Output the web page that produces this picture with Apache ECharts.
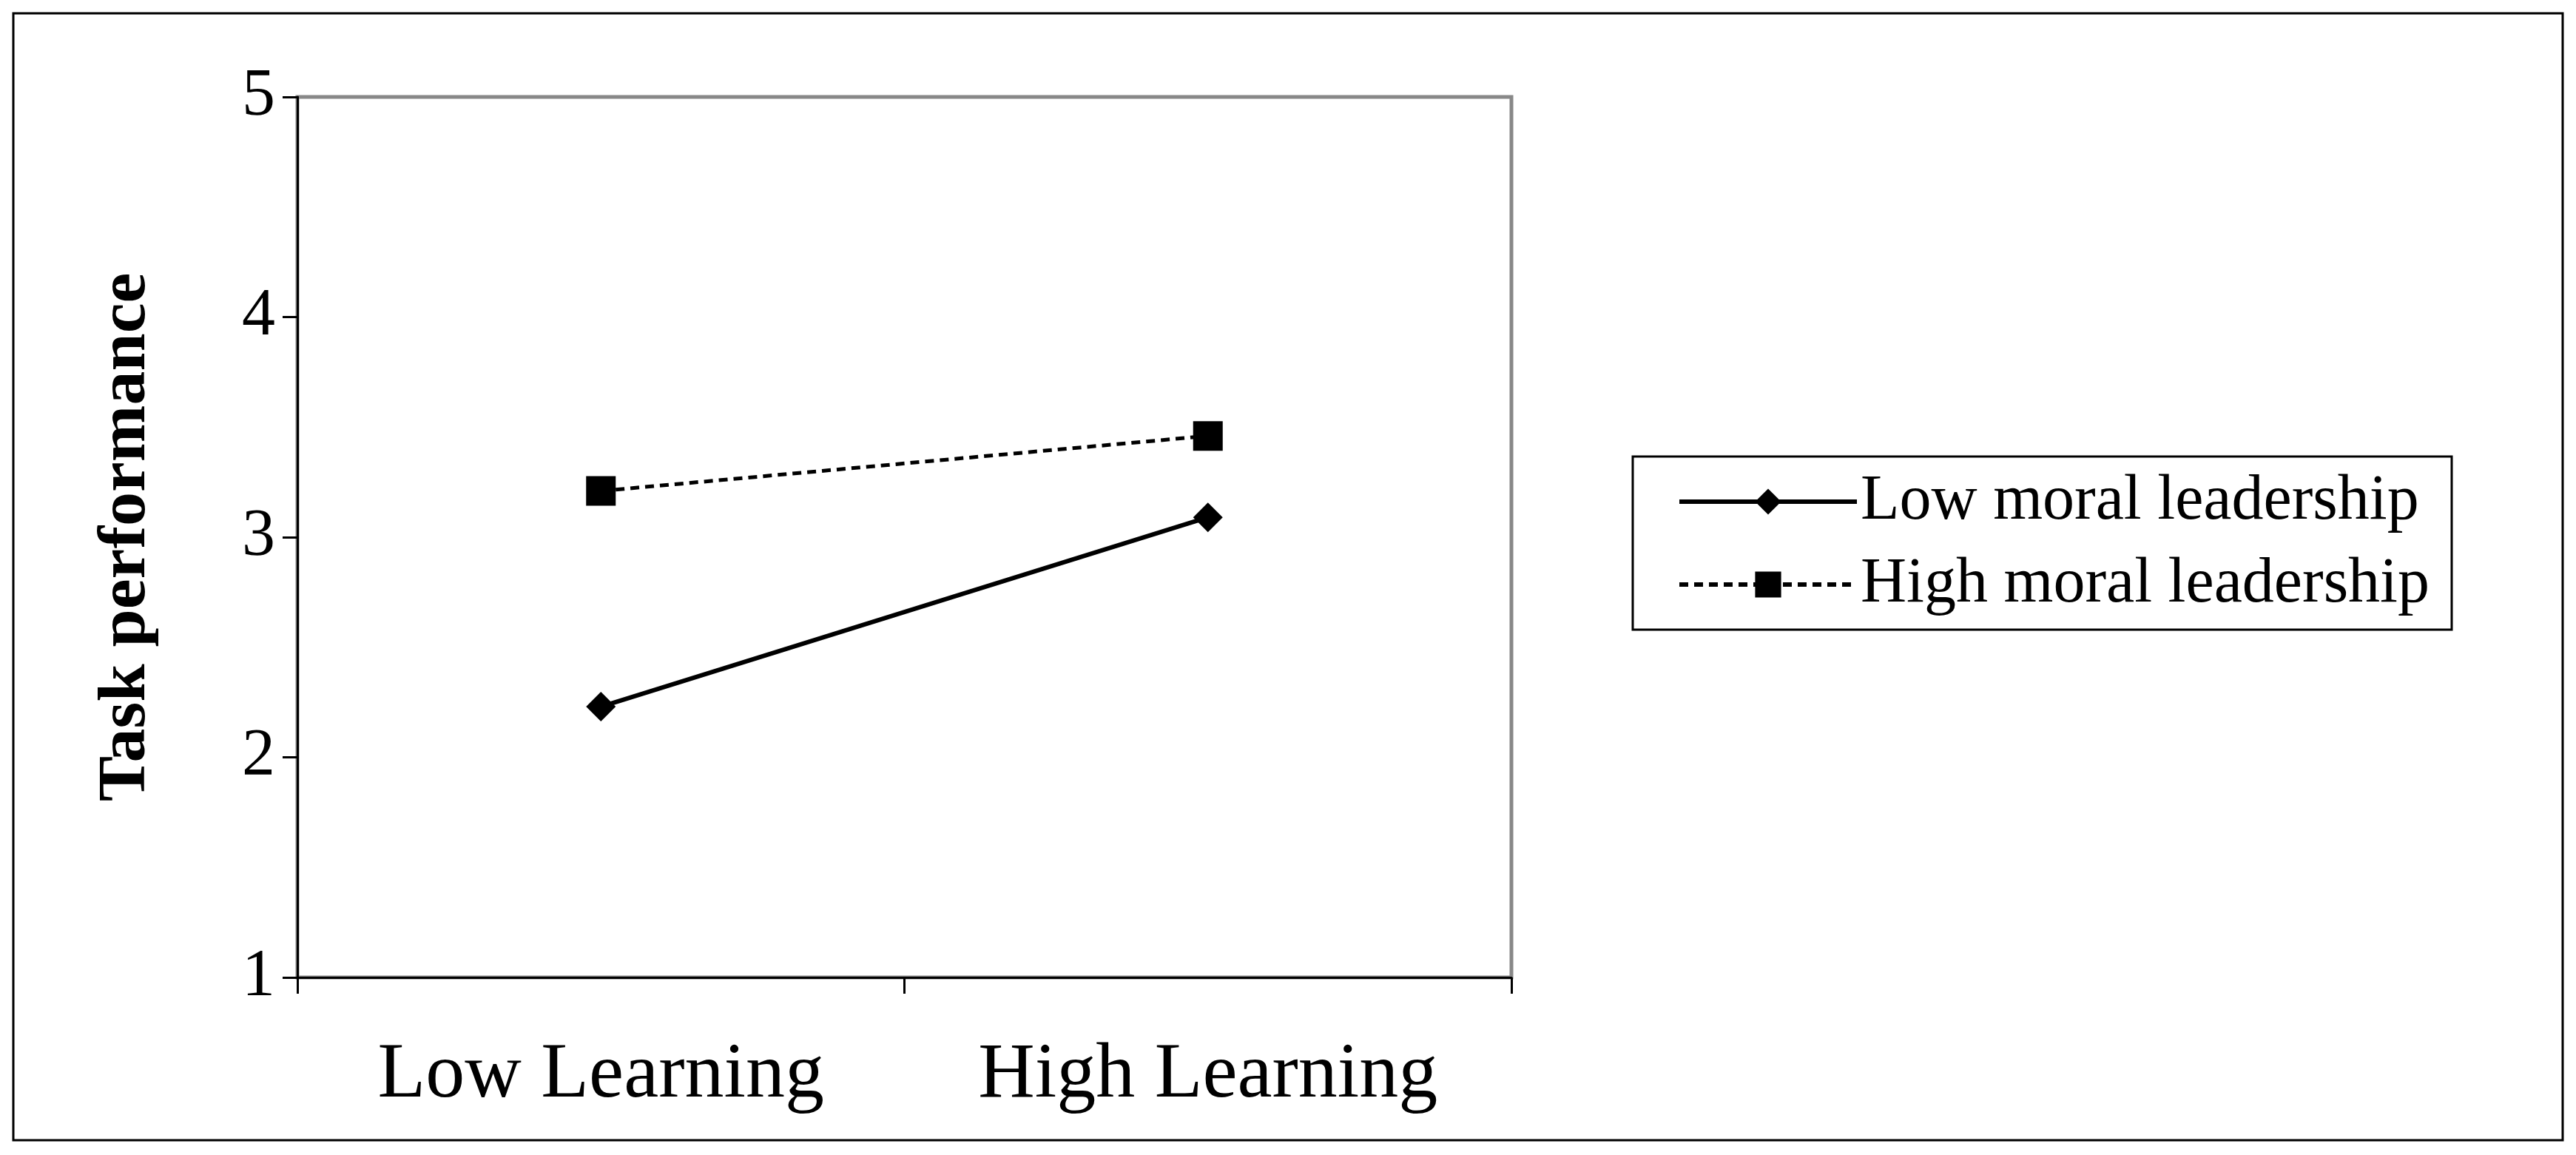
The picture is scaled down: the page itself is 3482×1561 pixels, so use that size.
<!DOCTYPE html>
<html><head><meta charset="utf-8">
<script src="https://cdn.jsdelivr.net/npm/echarts@6/dist/echarts.min.js"></script>
<style>html,body{margin:0;background:#fff}#c{width:3482px;height:1561px}</style>
</head><body><div id="c"></div>
<script>
const categories = ["Low Learning", "High Learning"];
const lowMoral = [2.23, 3.09];
const highMoral = [3.21, 3.46];
const yTicks = [1, 2, 3, 4, 5];

const font = "Liberation Serif";
const chart = echarts.init(document.getElementById("c"));
chart.setOption({
    animation: false,
    graphic: [{
        type: "rect",
        shape: { x: 18, y: 18, width: 3446, height: 1523 },
        style: { fill: "none", stroke: "#000", lineWidth: 3 },
    }],
    grid: {
        left: 402, right: 1439, top: 131, bottom: 240,
        show: true, borderColor: "#888", borderWidth: 5,
    },
    legend: {
        orient: "vertical",
        left: 2207, top: 617, width: 1208,
        padding: [18, 30, 18, 60],
        borderColor: "#000", borderWidth: 3,
        itemWidth: 240, itemHeight: 44, itemGap: 26,
        lineStyle: { width: 6 },
        textStyle: { fontFamily: font, fontSize: 86, color: "#000" },
    },
    xAxis: {
        type: "category",
        data: categories,
        boundaryGap: true,
        axisLine: { lineStyle: { color: "#000", width: 3 } },
        axisTick: { show: true, interval: 0, alignWithLabel: false, length: 22, lineStyle: { color: "#000", width: 3 } },
        axisLabel: { fontFamily: font, fontSize: 106, color: "#000", margin: 80 },
    },
    yAxis: {
        type: "value",
        min: yTicks[0], max: yTicks[yTicks.length - 1], interval: 1,
        name: "Task performance",
        nameLocation: "middle", nameGap: 185,
        nameTextStyle: { fontFamily: font, fontSize: 92, fontWeight: "bold", color: "#000" },
        splitLine: { show: false },
        axisLine: { show: true, lineStyle: { color: "#000", width: 3 } },
        axisTick: { show: true, length: 20, inside: false, lineStyle: { color: "#000", width: 3 } },
        axisLabel: { fontFamily: font, fontSize: 90, color: "#000", margin: 30 },
    },
    series: [
        {
            name: "Low moral leadership", type: "line", data: lowMoral,
            symbol: "diamond", symbolSize: 40,
            lineStyle: { color: "#000", width: 6 },
            itemStyle: { color: "#000" },
        },
        {
            name: "High moral leadership", type: "line", data: highMoral,
            symbol: "rect", symbolSize: 40,
            lineStyle: { color: "#000", width: 5, type: [12, 8] },
            itemStyle: { color: "#000" },
        },
    ],
});
</script></body></html>
